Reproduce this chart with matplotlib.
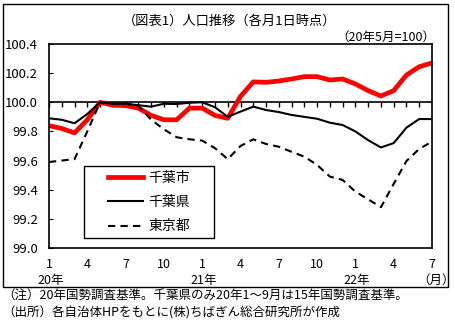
import numpy as np
import matplotlib
matplotlib.use('Agg')
import matplotlib.pyplot as plt
from matplotlib.patches import Rectangle
from matplotlib.transforms import blended_transform_factory

plt.rcParams['font.family'] = ['Noto Sans CJK JP', 'DejaVu Sans']

# 2020年1月～2022年7月 (月次, 20年5月=100)
months = list(range(31))
month_labels = ['1', '4', '7', '10', '1', '4', '7', '10', '1', '4', '7']
year_labels = ['20年', '21年', '22年']
year_pos = [0, 12, 24]

chiba_city = [99.84, 99.82, 99.79, 99.88, 100.00, 99.98, 99.977, 99.96, 99.91, 99.88,
              99.88, 99.96, 99.96, 99.91, 99.89, 100.04, 100.14, 100.137, 100.146, 100.16,
              100.176, 100.176, 100.153, 100.16, 100.126, 100.08, 100.043, 100.08, 100.187,
              100.244, 100.27]
chiba_pref = [99.89, 99.88, 99.856, 99.92, 100.00, 99.99, 99.99, 99.98, 99.97, 99.99,
              99.988, 99.997, 100.0, 99.966, 99.90, 99.936, 99.97, 99.947, 99.933, 99.913,
              99.90, 99.887, 99.86, 99.844, 99.80, 99.74, 99.69, 99.72, 99.826, 99.885, 99.885]
tokyo = [99.59, 99.60, 99.61, 99.80, 100.00, 99.99, 99.99, 99.977, 99.88, 99.815,
         99.76, 99.746, 99.737, 99.685, 99.61, 99.70, 99.746, 99.714, 99.695, 99.66,
         99.627, 99.57, 99.49, 99.467, 99.387, 99.334, 99.28, 99.44, 99.597, 99.68, 99.73]

fig = plt.figure(figsize=(4.56, 3.26), dpi=100)
ax = fig.add_axes([49 / 456, 78 / 326, 383 / 456, 204 / 326])

ax.plot(months, chiba_city, color='#ff0000', lw=3.4, label='千葉市', solid_joinstyle='round')
ax.plot(months, chiba_pref, color='black', lw=1.5, label='千葉県')
ax.plot(months, tokyo, color='black', lw=1.5, ls=(0, (3.5, 2.5)), label='東京都')

ax.set_xlim(0, 30)
ax.set_ylim(99.0, 100.4)
yt = np.arange(99.0, 100.41, 0.2)
ax.set_yticks(yt)
ax.set_yticklabels(['%.1f' % v for v in yt], fontsize=9.5)
ax.tick_params(axis='y', direction='in', length=3, pad=8)
ax.set_xticks([])
for sp in ax.spines.values():
    sp.set_linewidth(1.2)

# 100.0 baseline with monthly tick marks
ax.axhline(100.0, color='black', lw=1.2, zorder=1)
ax.vlines(months, 99.97, 100.0, color='black', lw=1.0, zorder=1)

# month / year labels below the plot
tr = blended_transform_factory(ax.transData, ax.transAxes)
for i, lab in zip(months[::3], month_labels):
    ax.text(i, -0.083, lab, transform=tr, ha='center', va='center', fontsize=9)
for i, lab in zip(year_pos, year_labels):
    ax.text(i + 0.1, -0.16, lab, transform=tr, ha='center', va='center', fontsize=9)
ax.text(30.3, -0.16, '（月）', transform=tr, ha='center', va='center', fontsize=9)

# legend box drawn separately so the entries sit centred with wide margins
ax.add_patch(Rectangle((0.0914, 0.049), 0.3394, 0.353, transform=ax.transAxes,
                       fill=False, edgecolor='black', lw=1.0, zorder=5))
leg = ax.legend(loc='center', bbox_to_anchor=(0.261, 0.2255), fontsize=10,
                frameon=False, handlelength=2.5, handletextpad=0.4,
                labelspacing=0.75, borderpad=0, borderaxespad=0)
leg.set_zorder(6)

fig.text(230 / 456, 1 - 21 / 326, '（図表1）人口推移（各月1日時点）', ha='center', va='center', fontsize=9.5)
fig.text(435 / 456, 1 - 37 / 326, '（20年5月=100）', ha='right', va='center', fontsize=9)

fig.patches.append(Rectangle((3 / 456, 39 / 326), 445 / 456, 283 / 326, transform=fig.transFigure,
                             fill=False, edgecolor='black', lw=1.0))

fig.text(2 / 456, 1 - 295 / 326, '（注）20年国勢調査基準。千葉県のみ20年1～9月は15年国勢調査基準。',
         ha='left', va='center', fontsize=9)
fig.text(2 / 456, 1 - 313 / 326, '（出所）各自治体HPをもとに(株)ちばぎん総合研究所が作成',
         ha='left', va='center', fontsize=9)

fig.savefig('out.png', dpi=100)
